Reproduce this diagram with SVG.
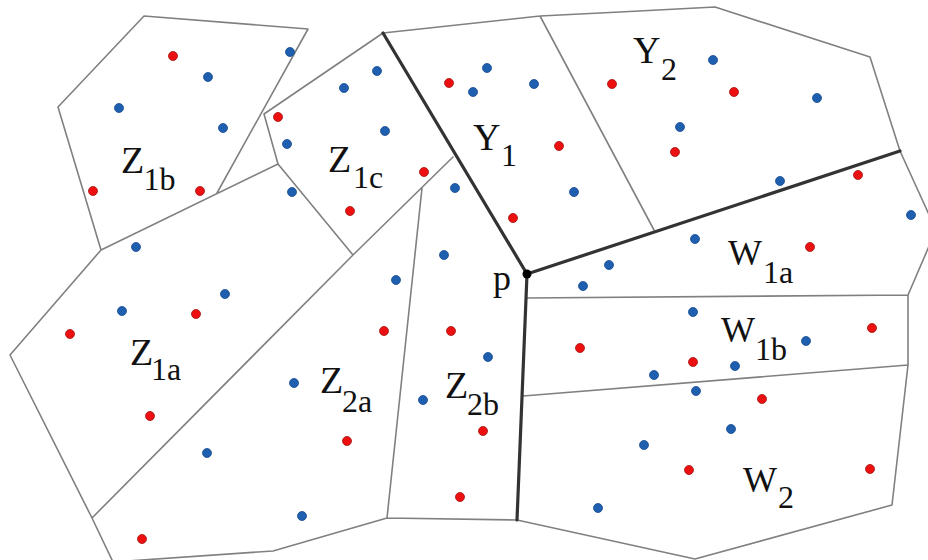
<svg xmlns="http://www.w3.org/2000/svg" width="928" height="560" viewBox="0 0 928 560">
<defs>
<style>
.e{fill:none;stroke:#808080;stroke-width:1.6;stroke-linejoin:round;stroke-linecap:round}
.h{fill:none;stroke:#333333;stroke-width:3.2;stroke-linecap:round;stroke-linejoin:round}
.r{fill:#ee1010;stroke:#a01010;stroke-width:0.8}
.b{fill:#1f5fb0;stroke:#174a8a;stroke-width:0.8}
.t{font-family:'Liberation Serif','DejaVu Serif',serif;font-size:38px;fill:#111}
.s{font-family:'Liberation Serif','DejaVu Serif',serif;font-size:32px;fill:#111}
</style>
</defs>
<rect width="928" height="560" fill="#ffffff"/>
<g id="connectors">
<path class="e" d="M144,16 L308,29 L217,193 M144,16 L58,107 L101,250 L278,164 L264,114 L383,33 M278,164 L353,255 L453,157 M101,250 L10,355 L92,518 L113,562 M353,255 L92,518 M422,188 L387,518 L517,520 M387,518 L273,551 L113,562 M383,33 L540,16 L620,12 L715,7 L870,57 L900,151 L936,230 L908,295 L908,365 L892,505 L695,559 L517,520 M540,16 L654,230 M908,295 L527,298 M908,365 L523,396"/>
<path class="h" d="M383,33 L527,274 L900,151 M527,274 L517,520"/>
</g>
<g id="p">
<circle cx="527" cy="274" r="4.5" fill="#000"/>
<text class="t" x="493" y="290" style="font-size:36px">p</text>
</g>
<g id="Z1b">
<text class="t" x="121" y="173">Z</text><text class="s" x="143.5" y="190">1b</text>
<circle class="r" cx="173" cy="56" r="4.5"/><circle class="b" cx="208" cy="77" r="4.5"/><circle class="b" cx="290" cy="52" r="4.5"/><circle class="b" cx="119" cy="108" r="4.5"/><circle class="b" cx="223" cy="128" r="4.5"/><circle class="r" cx="93" cy="191" r="4.5"/><circle class="r" cx="200" cy="191" r="4.5"/>
</g>
<g id="Z1c">
<text class="t" x="328" y="172">Z</text><text class="s" x="353" y="188">1c</text>
<circle class="r" cx="278" cy="117" r="4.5"/><circle class="b" cx="287" cy="144" r="4.5"/><circle class="b" cx="377" cy="71" r="4.5"/><circle class="b" cx="344" cy="88" r="4.5"/><circle class="b" cx="385" cy="131" r="4.5"/><circle class="r" cx="424" cy="172" r="4.5"/><circle class="r" cx="350" cy="211" r="4.5"/>
</g>
<g id="Y1">
<text class="t" x="473" y="150">Y</text><text class="s" x="501" y="166">1</text>
<circle class="r" cx="449" cy="83" r="4.5"/><circle class="b" cx="487" cy="68" r="4.5"/><circle class="b" cx="473" cy="92" r="4.5"/><circle class="b" cx="534" cy="84" r="4.5"/><circle class="r" cx="559" cy="146" r="4.5"/><circle class="b" cx="574" cy="192" r="4.5"/><circle class="r" cx="513" cy="218" r="4.5"/>
</g>
<g id="Y2">
<text class="t" x="633" y="63">Y</text><text class="s" x="661" y="80">2</text>
<circle class="r" cx="612" cy="84" r="4.5"/><circle class="b" cx="713" cy="60" r="4.5"/><circle class="r" cx="734" cy="92" r="4.5"/><circle class="b" cx="817" cy="98" r="4.5"/><circle class="b" cx="680" cy="127" r="4.5"/><circle class="r" cx="675" cy="152" r="4.5"/><circle class="b" cx="780" cy="181" r="4.5"/>
</g>
<g id="W1a">
<text class="t" x="728" y="265" style="font-size:36px">W</text><text class="s" x="763" y="283">1a</text>
<circle class="r" cx="858" cy="175" r="4.5"/><circle class="b" cx="911" cy="215" r="4.5"/><circle class="b" cx="695" cy="239" r="4.5"/><circle class="r" cx="810" cy="247" r="4.5"/><circle class="b" cx="609" cy="265" r="4.5"/><circle class="b" cx="583" cy="286" r="4.5"/>
</g>
<g id="W1b">
<text class="t" x="721" y="342" style="font-size:36px">W</text><text class="s" x="755" y="360">1b</text>
<circle class="b" cx="693" cy="312" r="4.5"/><circle class="r" cx="872" cy="328" r="4.5"/><circle class="b" cx="806" cy="341" r="4.5"/><circle class="r" cx="693" cy="362" r="4.5"/><circle class="b" cx="735" cy="366" r="4.5"/><circle class="b" cx="654" cy="375" r="4.5"/><circle class="r" cx="580" cy="348" r="4.5"/>
</g>
<g id="W2">
<text class="t" x="743" y="492" style="font-size:36px">W</text><text class="s" x="778" y="508">2</text>
<circle class="b" cx="696" cy="391" r="4.5"/><circle class="r" cx="762" cy="399" r="4.5"/><circle class="b" cx="731" cy="429" r="4.5"/><circle class="b" cx="644" cy="445" r="4.5"/><circle class="r" cx="689" cy="470" r="4.5"/><circle class="r" cx="870" cy="469" r="4.5"/><circle class="b" cx="598" cy="508" r="4.5"/>
</g>
<g id="Z2b">
<text class="t" x="445" y="398">Z</text><text class="s" x="467" y="415">2b</text>
<circle class="b" cx="455" cy="188" r="4.5"/><circle class="b" cx="444" cy="255" r="4.5"/><circle class="r" cx="451" cy="331" r="4.5"/><circle class="b" cx="488" cy="357" r="4.5"/><circle class="b" cx="423" cy="400" r="4.5"/><circle class="r" cx="483" cy="431" r="4.5"/><circle class="r" cx="460" cy="497" r="4.5"/>
</g>
<g id="Z2a">
<text class="t" x="320" y="393">Z</text><text class="s" x="342" y="412">2a</text>
<circle class="b" cx="396" cy="280" r="4.5"/><circle class="r" cx="384" cy="331" r="4.5"/><circle class="r" cx="347" cy="441" r="4.5"/><circle class="b" cx="294" cy="383" r="4.5"/><circle class="b" cx="207" cy="453" r="4.5"/><circle class="b" cx="302" cy="516" r="4.5"/><circle class="r" cx="142" cy="539" r="4.5"/>
</g>
<g id="Z1a">
<text class="t" x="130" y="365">Z</text><text class="s" x="151" y="380">1a</text>
<circle class="b" cx="136" cy="247" r="4.5"/><circle class="b" cx="225" cy="294" r="4.5"/><circle class="b" cx="122" cy="311" r="4.5"/><circle class="r" cx="196" cy="314" r="4.5"/><circle class="r" cx="70" cy="334" r="4.5"/><circle class="r" cx="150" cy="416" r="4.5"/><circle class="b" cx="292" cy="192" r="4.5"/>
</g>
</svg>
